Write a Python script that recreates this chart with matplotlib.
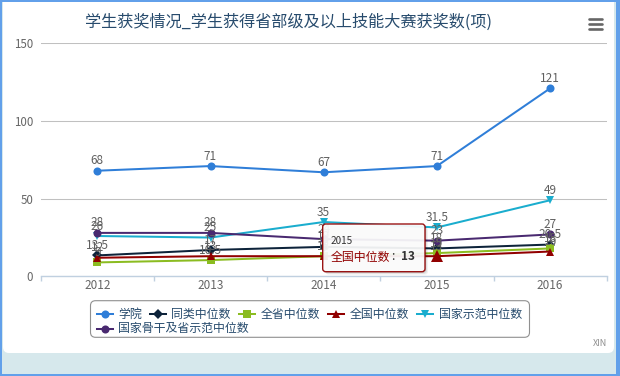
import matplotlib
matplotlib.use('Agg')
import matplotlib.pyplot as plt
from matplotlib.patches import FancyBboxPatch, Rectangle
from matplotlib.lines import Line2D
from matplotlib.transforms import Affine2D

plt.rcParams['font.family'] = ['Noto Sans CJK SC', 'DejaVu Sans']

W, H = 620, 376

# data
years = ['2012', '2013', '2014', '2015', '2016']
college = [68, 71, 67, 71, 121]
peer_median = [13.5, 17, 19, 18, 20.5]
province_median = [9, 10.5, 13, 15, 18]
national_median = [12, 13, 13, 13, 16]
demo_median = [26, 25, 35, 31.5, 49]
backbone_median = [28, 28, 24, 23, 27]

series_names = ['学院', '同类中位数', '全省中位数', '全国中位数',
                '国家示范中位数', '国家骨干及省示范中位数']
series_values = [college, peer_median, province_median, national_median,
                 demo_median, backbone_median]
colors = ['#2f7ed8', '#0d233a', '#8bbc21', '#910000', '#1aadce', '#492970']
markers = ['o', 'D', 's', '^', 'v', 'o']
marker_sizes = [5.8, 5.2, 5.6, 6.2, 6.2, 5.8]

title = '学生获奖情况_学生获得省部级及以上技能大赛获奖数(项)'
y_ticks = [0, 50, 100, 150]
hover_series = 3   # 全国中位数
hover_index = 3    # 2015

fig = plt.figure(figsize=(W / 100, H / 100), dpi=100, facecolor='#d6e8ec')
# pixel coords, origin top-left
pix = Affine2D().scale(1, -1).translate(0, H)

# white chart panel + blue window frame (behind the axes)
fig.patches.append(FancyBboxPatch((3, -6), 611, 359, boxstyle='round,pad=0,rounding_size=6',
                                  transform=pix, facecolor='white', edgecolor='none', zorder=-2))
frame = '#62a0ea'
for x, y, w, h in [(0, 0, 2, H), (616, 0, 4, H), (0, 0, W, 1.5), (0, 373.5, W, 2.5)]:
    fig.patches.append(Rectangle((x, y), w, h, transform=pix, facecolor=frame,
                                 edgecolor='none', zorder=-1))

# plot area
left, right, top, base = 40.7, 606.7, 43.3, 276.4
ax = fig.add_axes([left / W, (H - base) / H, (right - left) / W, (base - top) / H])
ax.set_facecolor('none')
x = list(range(len(years)))

for k, (name, vals) in enumerate(zip(series_names, series_values)):
    ax.plot(x, vals, color=colors[k], lw=1.45, marker=markers[k], ms=marker_sizes[k],
            markeredgewidth=0, zorder=3 + k, clip_on=False)

# hovered point drawn larger
ax.plot(x[hover_index], series_values[hover_series][hover_index], marker=markers[hover_series],
        ms=9, color=colors[hover_series], markeredgewidth=0, zorder=9, clip_on=False)

for k, vals in enumerate(series_values):
    for i, v in enumerate(vals):
        ax.annotate(f'{v:g}', (i, v), xytext=(0, 2.5), textcoords='offset points',
                    ha='center', va='bottom', fontsize=8.5, color='#606060', zorder=10)

ax.set_xlim(-0.5, len(years) - 0.5)
ax.set_ylim(0, 150)
ax.set_yticks(y_ticks)
ax.grid(axis='y', color='#C0C0C0', lw=0.75)
ax.set_axisbelow(True)
for s in ['top', 'right', 'left']:
    ax.spines[s].set_visible(False)
ax.spines['bottom'].set_color('#C0D0E0')
ax.spines['bottom'].set_linewidth(1)
ax.set_xticks([i - 0.5 for i in range(len(years) + 1)])
ax.set_xticklabels([])
ax.set_xticks(x, minor=True)
ax.set_xticklabels(years, minor=True)
ax.tick_params(axis='x', which='major', length=3.5, color='#C0D0E0', width=1)
ax.tick_params(axis='x', which='minor', length=0, pad=2, labelsize=8.5, labelcolor='#666666')
ax.tick_params(axis='y', length=0, pad=5.5, labelsize=8.3, labelcolor='#666666')

# title and menu icon
fig.text(288, 22, title, transform=pix, ha='center', va='center', fontsize=11.6, color='#274b6d')
for yy in [19, 24.3, 29.3]:
    fig.lines.append(Line2D([588.5, 602], [yy, yy], transform=pix, color='#666666', lw=1.9,
                            solid_capstyle='round'))

# legend (drawn by hand to keep the row layout)
fig.patches.append(FancyBboxPatch((90.5, 300.7), 439, 36.6, boxstyle='round,pad=0,rounding_size=5',
                                  transform=pix, facecolor='white', edgecolor='#909090', lw=0.8))
sym_x = [104.7, 158, 247, 336, 425, 104.7]
sym_y = [314.3, 314.3, 314.3, 314.3, 314.3, 328.7]
for k, name in enumerate(series_names):
    sx, sy = sym_x[k], sym_y[k]
    fig.lines.append(Line2D([sx - 8, sx + 8], [sy, sy], transform=pix, color=colors[k], lw=1.45))
    fig.lines.append(Line2D([sx], [sy], transform=pix, color=colors[k], marker=markers[k],
                            ms=marker_sizes[k], markeredgewidth=0))
    fig.text(sx + 13.5, sy, name, transform=pix, ha='left', va='center', fontsize=8.6,
             color='#274b6d')

fig.text(607, 344, 'XIN', transform=pix, ha='right', va='center', fontsize=6.5, color='#909090')

# tooltip
tx, ty, tw, th = 322.7, 224, 102.3, 47.7
for off, a in [(3, 0.05), (2, 0.08), (1, 0.12)]:
    fig.patches.append(FancyBboxPatch((tx + off, ty + off), tw, th,
                                      boxstyle='round,pad=0,rounding_size=3', transform=pix,
                                      facecolor='black', edgecolor='none', alpha=a, zorder=20))
fig.patches.append(FancyBboxPatch((tx, ty), tw, th, boxstyle='round,pad=0,rounding_size=3',
                                  transform=pix, facecolor='white', edgecolor=colors[hover_series],
                                  lw=1, alpha=0.92, zorder=21))
fig.text(331, 241, years[hover_index], transform=pix, ha='left', va='center', fontsize=7.2,
         color='#333333', zorder=22)
fig.text(331, 257, series_names[hover_series], transform=pix, ha='left', va='center',
         fontsize=8.6, color=colors[hover_series], zorder=22)
fig.text(391.5, 257, ':', transform=pix, ha='left', va='center', fontsize=8.6,
         color='#333333', zorder=22)
fig.text(401, 257, f'{series_values[hover_series][hover_index]:g}', transform=pix, ha='left',
         va='center', fontsize=8.6, color='#333333', fontweight='bold', zorder=22)

fig.savefig('out.png', dpi=100, facecolor=fig.get_facecolor())
